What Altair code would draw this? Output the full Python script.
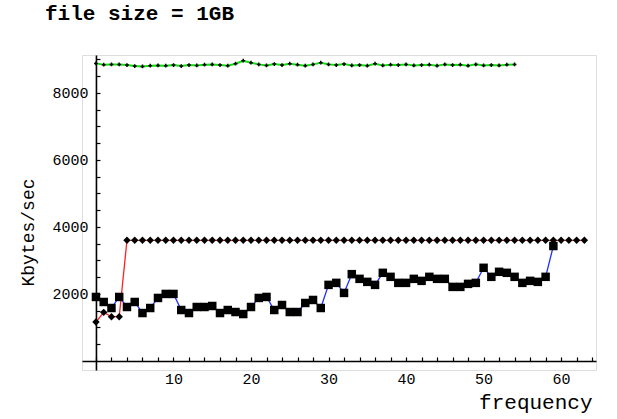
import altair as alt
import pandas as pd

# ---- data ----
green_freq = list(range(0, 55))
green_rate = [8880, 8840, 8850, 8850, 8830, 8800, 8790, 8810, 8820, 8810,
              8830, 8800, 8830, 8820, 8840, 8850, 8830, 8810, 8870, 8960,
              8900, 8850, 8820, 8860, 8830, 8870, 8840, 8810, 8850, 8900,
              8850, 8830, 8860, 8820, 8830, 8810, 8870, 8820, 8840, 8830,
              8850, 8820, 8830, 8840, 8810, 8850, 8830, 8840, 8810, 8850,
              8820, 8830, 8820, 8840, 8850]

red_freq = list(range(0, 64))
red_rate = [1160, 1450, 1320, 1320, 3600, 3600, 3600, 3600, 3600, 3600,
            3600, 3600, 3600, 3600, 3600, 3600, 3600, 3600, 3600, 3600,
            3600, 3600, 3600, 3600, 3600, 3600, 3600, 3600, 3600, 3600,
            3600, 3600, 3600, 3600, 3600, 3600, 3600, 3600, 3600, 3600,
            3600, 3600, 3600, 3600, 3600, 3600, 3600, 3600, 3600, 3600,
            3600, 3600, 3600, 3600, 3600, 3600, 3600, 3600, 3600, 3600,
            3600, 3600, 3600, 3600]

blue_freq = list(range(0, 60))
blue_rate = [1910, 1760, 1580, 1910, 1610, 1760, 1430, 1580, 1880, 2000,
             2000, 1520, 1430, 1610, 1610, 1640, 1430, 1520, 1460, 1400,
             1610, 1880, 1910, 1520, 1670, 1460, 1460, 1730, 1820, 1580,
             2270, 2330, 2030, 2590, 2450, 2360, 2270, 2630, 2510, 2330,
             2330, 2450, 2390, 2510, 2450, 2450, 2210, 2210, 2300, 2330,
             2780, 2510, 2660, 2630, 2510, 2330, 2390, 2360, 2510, 3430]

x_labels = [10, 20, 30, 40, 50, 60]
x_ticks = list(range(0, 65, 2))
y_labels = [2000, 4000, 6000, 8000]
y_ticks = list(range(500, 9001, 500))

# ---- layout ----
W, H = 514, 315
x_dom = [-1.8, 64.5]
y_dom = [-270, 9130]
x0_px = (0 - x_dom[0]) / (x_dom[1] - x_dom[0]) * W
y0_px = (0 - y_dom[0]) / (y_dom[1] - y_dom[0]) * H

MONO = "Liberation Mono"

xs = alt.Scale(domain=x_dom, nice=False, zero=False)
ys = alt.Scale(domain=y_dom, nice=False, zero=False)

label_x_axis = alt.Axis(orient="bottom", offset=-y0_px, values=x_labels,
                        format="d",
                        ticks=False, tickSize=0, domain=False, grid=False,
                        labelFont=MONO, labelFontSize=15, labelColor="black",
                        labelPadding=11,
                        title="frequency", titleFont=MONO, titleFontSize=21,
                        titleFontWeight="normal", titleColor="black",
                        titleAlign="right", titleX=W - 4, titleY=48,
                        titleBaseline="alphabetic")
label_y_axis = alt.Axis(orient="left", offset=-x0_px, values=y_labels,
                        format="d",
                        ticks=False, tickSize=0, domain=False, grid=False,
                        labelFont=MONO, labelFontSize=15, labelColor="black",
                        labelPadding=8,
                        title="Kbytes/sec", titleFont=MONO, titleFontSize=18,
                        titleFontWeight="normal", titleColor="black",
                        titleAngle=270, titleAlign="center",
                        titleBaseline="middle", titleX=-67, titleY=177)
tick_x_axis = alt.Axis(orient="top", offset=-(H - y0_px), values=x_ticks,
                       labels=False, tickSize=4, tickColor="black",
                       tickWidth=1.2, domainColor="black", domainWidth=1.6,
                       grid=False, title=None)
tick_y_axis = alt.Axis(orient="right", offset=-(W - x0_px), values=y_ticks,
                       labels=False, tickSize=4, tickColor="black",
                       tickWidth=1.2, domainColor="black", domainWidth=1.6,
                       grid=False, title=None)

df_g = pd.DataFrame({"freq": green_freq, "rate": green_rate})
df_r = pd.DataFrame({"freq": red_freq, "rate": red_rate})
df_b = pd.DataFrame({"freq": blue_freq, "rate": blue_rate})

green_line = alt.Chart(df_g).mark_line(color="#11dd11", strokeWidth=2).encode(
    x=alt.X("freq:Q", scale=xs, axis=label_x_axis),
    y=alt.Y("rate:Q", scale=ys, axis=label_y_axis))
green_pts = alt.Chart(df_g).mark_point(shape="cross", filled=True, color="black",
                                       size=14, opacity=1).encode(
    x=alt.X("freq:Q", scale=xs, axis=tick_x_axis),
    y=alt.Y("rate:Q", scale=ys, axis=tick_y_axis))

red_line = alt.Chart(df_r).mark_line(color="#ff2020", strokeWidth=1.3).encode(
    x=alt.X("freq:Q", scale=xs, axis=None),
    y=alt.Y("rate:Q", scale=ys, axis=None))
red_pts = alt.Chart(df_r).mark_point(shape="diamond", filled=True, color="black",
                                     size=55, opacity=1).encode(
    x=alt.X("freq:Q", scale=xs, axis=None),
    y=alt.Y("rate:Q", scale=ys, axis=None))

blue_line = alt.Chart(df_b).mark_line(color="#2030ff", strokeWidth=1.3).encode(
    x=alt.X("freq:Q", scale=xs, axis=None),
    y=alt.Y("rate:Q", scale=ys, axis=None))
blue_pts = alt.Chart(df_b).mark_point(shape="square", filled=True, color="black",
                                      size=72, opacity=1).encode(
    x=alt.X("freq:Q", scale=xs, axis=None),
    y=alt.Y("rate:Q", scale=ys, axis=None))

chart = alt.layer(
    green_line, green_pts, red_line, red_pts, blue_line, blue_pts
).resolve_axis(
    x="independent", y="independent"
).properties(
    width=W, height=H,
    autosize=alt.AutoSizeParams(type="none"),
    padding={"left": 82, "top": 55, "right": 21, "bottom": 49},
    title=alt.TitleParams("file size = 1GB", anchor="start", frame="group",
                          font=MONO, fontSize=21, fontWeight="bold",
                          color="black", dx=-37, offset=14,
                          baseline="alphabetic"),
).configure_view(stroke=None).configure(background="white")

chart.save("out.html", embed_options={"renderer": "svg", "actions": False})
